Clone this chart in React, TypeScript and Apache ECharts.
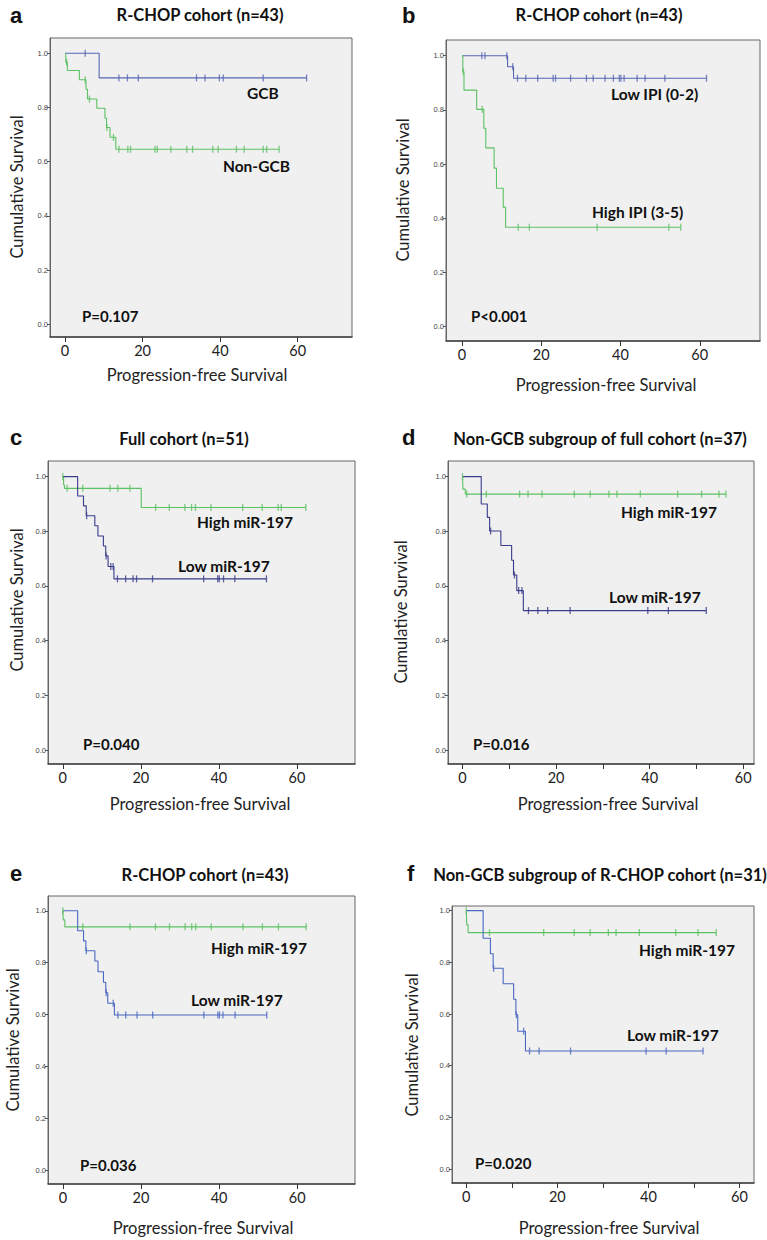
import React, { useEffect, useRef } from "react";
import * as echarts from "echarts";

// ---------- data (months, cumulative survival) ----------
// Panel a: R-CHOP cohort, GCB vs Non-GCB
const aGcbEventTimes = [8.8];
const aGcbEventSurv = [0.909];
const aGcbCensor = [5.2, 13.9, 16.1, 18.9, 33.9, 36.1, 39.8, 40.8, 51.1, 62.3];
const aNonEventTimes = [0.2, 0.6, 3.7, 5.4, 5.8, 8.2, 10.3, 10.7, 11.6, 13.1];
const aNonEventSurv = [0.967, 0.936, 0.902, 0.867, 0.831, 0.797, 0.76, 0.726, 0.69, 0.646];
const aNonCensor = [0.4, 5.2, 6.3, 10.8, 12.5, 13.9, 16.2, 16.9, 23.2, 23.8, 27.3, 31.4, 32.9, 38.1, 39.5, 44.2, 46.2, 51.1, 52.0, 55.2];

// Panel b: R-CHOP cohort, Low IPI vs High IPI
const bLowEventTimes = [11.5, 13.0];
const bLowEventSurv = [0.959, 0.917];
const bLowCensor = [5.0, 5.8, 11.3, 12.8, 14.0, 16.1, 19.1, 23.0, 23.6, 27.4, 31.4, 33.1, 36.1, 38.2, 39.7, 40.1, 40.9, 44.2, 46.2, 51.2, 61.7];
const bHighEventTimes = [0.2, 0.5, 3.7, 5.5, 6.0, 8.1, 8.7, 10.4, 11.0];
const bHighEventSurv = [0.941, 0.873, 0.802, 0.732, 0.66, 0.585, 0.511, 0.441, 0.367];
const bHighCensor = [0.3, 5.1, 14.2, 17.0, 34.1, 52.2, 55.2];

// Panel c: Full cohort, High vs Low miR-197
const cHighEventTimes = [0.2, 0.4, 20.1];
const cHighEventSurv = [0.97, 0.957, 0.887];
const cHighCensor = [0, 1.1, 5.1, 12.1, 14.1, 17.2, 23.8, 27.3, 31.3, 33.0, 34.0, 38.0, 46.1, 51.1, 55.2, 56.0, 62.3];
const cLowEventTimes = [3.8, 5.3, 6.0, 8.2, 9.0, 10.4, 11.0, 11.6, 13.1];
const cLowEventSurv = [0.929, 0.893, 0.857, 0.82, 0.783, 0.746, 0.71, 0.671, 0.626];
const cLowCensor = [6.1, 11.1, 12.3, 12.9, 14.0, 16.1, 18.0, 18.9, 23.0, 36.1, 39.7, 40.1, 41.2, 44.1, 52.2];

// Panel d: Non-GCB subgroup of full cohort
const dHighEventTimes = [0.1, 0.6];
const dHighEventSurv = [0.954, 0.936];
const dHighCensor = [0, 0.9, 5.1, 12.2, 14.0, 17.0, 23.9, 27.3, 31.3, 33.0, 38.0, 46.0, 51.1, 54.8, 56.3];
const dLowEventTimes = [4.0, 5.3, 5.8, 8.2, 10.5, 10.9, 11.6, 13.0];
const dLowEventSurv = [0.9, 0.851, 0.801, 0.748, 0.694, 0.64, 0.583, 0.51];
const dLowCensor = [6.0, 11.1, 12.0, 12.7, 14.1, 16.1, 18.2, 23.0, 39.6, 44.0, 52.1];

// Panel e: R-CHOP cohort, High vs Low miR-197
const eHighEventTimes = [0.1, 0.5];
const eHighEventSurv = [0.965, 0.938];
const eHighCensor = [0, 5.1, 17.2, 23.7, 27.3, 31.3, 33.0, 34.0, 38.0, 46.1, 51.1, 55.2, 62.3];
const eLowEventTimes = [3.8, 5.3, 5.9, 8.2, 9.0, 10.4, 11.0, 11.5, 13.2];
const eLowEventSurv = [0.923, 0.884, 0.846, 0.806, 0.765, 0.724, 0.684, 0.643, 0.598];
const eLowCensor = [6.0, 11.1, 12.9, 14.1, 16.1, 19.0, 23.0, 36.1, 39.7, 40.1, 41.0, 44.1, 52.2];

// Panel f: Non-GCB subgroup of R-CHOP cohort
const fHighEventTimes = [0.1, 0.4];
const fHighEventSurv = [0.945, 0.915];
const fHighCensor = [0, 5.1, 17.0, 23.7, 27.2, 31.2, 32.9, 38.0, 46.0, 50.9, 54.9];
const fLowEventTimes = [3.7, 5.3, 5.9, 8.1, 10.4, 10.9, 11.3, 13.0];
const fLowEventSurv = [0.893, 0.833, 0.777, 0.717, 0.657, 0.597, 0.533, 0.457];
const fLowCensor = [6.0, 11.0, 12.6, 13.9, 16.0, 22.9, 39.5, 43.9, 52.0];

// axis ticks and labels
const yTicks = [0, 0.2, 0.4, 0.6, 0.8, 1.0];
const xLabels = [0, 20, 40, 60];
const xTicksMinor = [0, 10, 20, 30, 40, 50, 60];

const panelLetters = ["a", "b", "c", "d", "e", "f"];
const panelTitles = [
  "R-CHOP cohort (n=43)",
  "R-CHOP cohort (n=43)",
  "Full cohort (n=51)",
  "Non-GCB subgroup of full cohort (n=37)",
  "R-CHOP cohort (n=43)",
  "Non-GCB subgroup of R-CHOP cohort (n=31)",
];
const pValues = ["P=0.107", "P<0.001", "P=0.040", "P=0.016", "P=0.036", "P=0.020"];
const curveNames = [
  ["GCB", "Non-GCB"],
  ["Low IPI (0-2)", "High IPI (3-5)"],
  ["High miR-197", "Low miR-197"],
  ["High miR-197", "Low miR-197"],
  ["High miR-197", "Low miR-197"],
  ["High miR-197", "Low miR-197"],
];
const xAxisTitle = "Progression-free Survival";
const yAxisTitle = "Cumulative Survival";

// ---------- styling / layout ----------
const GREEN = "#5cc163";
const BLUE = "#5666b4";
const NAVY = "#3a3c8c";
const BLUE2 = "#4a67c2";
const FONT = "Lato, 'Open Sans', sans-serif";

type Curve = { times: number[]; surv: number[]; censor: number[]; color: string };

const panels = [
  {
    grid: { left: 50, top: 38, width: 302, height: 299 },
    x: [-3.87, 74.0], y: [-0.046, 1.056], xTicks: xLabels,
    curves: [
      { times: aGcbEventTimes, surv: aGcbEventSurv, censor: aGcbCensor, color: BLUE },
      { times: aNonEventTimes, surv: aNonEventSurv, censor: aNonCensor, color: GREEN },
    ],
    letter: [10, 15], title: [200, 15], labels: [[247, 93], [223, 166]], p: [82, 316],
    xt: [197, 375], yt: [17, 187],
  },
  {
    grid: { left: 446, top: 40, width: 314, height: 301 },
    x: [-4.04, 75.2], y: [-0.053, 1.058], xTicks: xLabels,
    curves: [
      { times: bLowEventTimes, surv: bLowEventSurv, censor: bLowCensor, color: BLUE },
      { times: bHighEventTimes, surv: bHighEventSurv, censor: bHighCensor, color: GREEN },
    ],
    letter: [402, 15], title: [599, 15], labels: [[611, 94], [592, 212]], p: [471, 316],
    xt: [606, 385], yt: [403, 190],
  },
  {
    grid: { left: 48, top: 461, width: 307, height: 303 },
    x: [-3.8, 74.9], y: [-0.051, 1.057], xTicks: xLabels,
    curves: [
      { times: cHighEventTimes, surv: cHighEventSurv, censor: cHighCensor, color: GREEN },
      { times: cLowEventTimes, surv: cLowEventSurv, censor: cLowCensor, color: NAVY },
    ],
    letter: [10, 437], title: [184, 439], labels: [[197, 522], [178, 566]], p: [83, 744],
    xt: [200, 804], yt: [17, 600],
  },
  {
    grid: { left: 448, top: 461, width: 306, height: 303 },
    x: [-3.1, 62.3], y: [-0.051, 1.057], xTicks: xTicksMinor,
    curves: [
      { times: dHighEventTimes, surv: dHighEventSurv, censor: dHighCensor, color: GREEN },
      { times: dLowEventTimes, surv: dLowEventSurv, censor: dLowCensor, color: NAVY },
    ],
    letter: [402, 437], title: [600, 439], labels: [[621, 512], [609, 597]], p: [473, 744],
    xt: [608, 804], yt: [401, 612],
  },
  {
    grid: { left: 48, top: 896, width: 307, height: 288 },
    x: [-3.8, 74.8], y: [-0.054, 1.057], xTicks: xLabels,
    curves: [
      { times: eHighEventTimes, surv: eHighEventSurv, censor: eHighCensor, color: GREEN },
      { times: eLowEventTimes, surv: eLowEventSurv, censor: eLowCensor, color: BLUE2 },
    ],
    letter: [10, 873], title: [205, 875], labels: [[211, 948], [191, 1000]], p: [80, 1165],
    xt: [203, 1228], yt: [13, 1040],
  },
  {
    grid: { left: 452, top: 906, width: 302, height: 277 },
    x: [-3.14, 63.2], y: [-0.054, 1.018], xTicks: xTicksMinor,
    curves: [
      { times: fHighEventTimes, surv: fHighEventSurv, censor: fHighCensor, color: GREEN },
      { times: fLowEventTimes, surv: fLowEventSurv, censor: fLowCensor, color: BLUE2 },
    ],
    letter: [407, 873], title: [600, 875], labels: [[639, 950], [627, 1035]], p: [475, 1163],
    xt: [609, 1228], yt: [412, 1045],
  },
];

function stepData(c: Curve): number[][] {
  const pts: number[][] = [[0, 1]];
  c.times.forEach((t, i) => pts.push([t, c.surv[i]]));
  const end = Math.max(...c.censor, ...c.times);
  pts.push([end, c.surv.length ? c.surv[c.surv.length - 1] : 1]);
  return pts;
}

function survAt(c: Curve, t: number): number {
  let s = 1;
  c.times.forEach((tt, i) => {
    if (tt <= t) s = c.surv[i];
  });
  return s;
}

function buildOption() {
  const grid: any[] = [];
  const xAxis: any[] = [];
  const yAxis: any[] = [];
  const series: any[] = [];
  const graphic: any[] = [];

  panels.forEach((p, i) => {
    grid.push({
      ...p.grid,
      show: true,
      backgroundColor: "#f0f0f0",
      borderColor: "#666",
      borderWidth: 1,
      containLabel: false,
    });
    xAxis.push({
      type: "value",
      gridIndex: i,
      min: p.x[0],
      max: p.x[1],
      axisLine: { show: true, onZero: false, lineStyle: { color: "#444", width: 1.5 } },
      axisTick: { show: true, customValues: p.xTicks, length: 5, lineStyle: { color: "#333", width: 1 } },
      axisLabel: { customValues: xLabels, fontSize: 14.5, color: "#222", margin: 6, fontFamily: FONT },
      splitLine: { show: false },
    });
    yAxis.push({
      type: "value",
      gridIndex: i,
      min: p.y[0],
      max: p.y[1],
      axisLine: { show: true, onZero: false, lineStyle: { color: "#666", width: 1 } },
      axisTick: { show: true, customValues: yTicks, length: 3, lineStyle: { color: "#555" } },
      axisLabel: {
        customValues: yTicks,
        formatter: (v: number) => v.toFixed(1),
        fontSize: 7.5,
        color: "#444",
        margin: 2,
        fontFamily: "'Liberation Sans', Arial, sans-serif",
      },
      splitLine: { show: false },
    });
    p.curves.forEach((c: Curve) => {
      series.push({
        type: "line",
        xAxisIndex: i,
        yAxisIndex: i,
        step: "end",
        data: stepData(c),
        showSymbol: false,
        symbol: "none",
        lineStyle: { color: c.color, width: 1.1 },
        silent: true,
        z: 2,
      });
      series.push({
        type: "scatter",
        xAxisIndex: i,
        yAxisIndex: i,
        data: c.censor.map((t) => [t, survAt(c, t)]),
        symbol: "rect",
        symbolSize: [1.3, 7],
        itemStyle: { color: c.color },
        silent: true,
        z: 3,
      });
    });

    graphic.push({
      type: "text",
      x: p.letter[0],
      y: p.letter[1],
      style: {
        text: panelLetters[i],
        font: "bold 22px 'Liberation Sans', Arial, sans-serif",
        fill: "#111",
        textAlign: "left",
        textVerticalAlign: "middle",
      },
    });
    graphic.push({
      type: "text",
      x: p.title[0],
      y: p.title[1],
      style: {
        text: panelTitles[i],
        font: `bold 16.5px ${FONT}`,
        fill: "#111",
        textAlign: "center",
        textVerticalAlign: "middle",
      },
    });
    p.labels.forEach((pos: number[], k: number) => {
      graphic.push({
        type: "text",
        x: pos[0],
        y: pos[1],
        style: {
          text: curveNames[i][k],
          font: `bold 15.5px ${FONT}`,
          fill: "#111",
          textAlign: "left",
          textVerticalAlign: "middle",
        },
      });
    });
    graphic.push({
      type: "text",
      x: p.p[0],
      y: p.p[1],
      style: {
        text: pValues[i],
        font: `bold 15px ${FONT}`,
        fill: "#111",
        textAlign: "left",
        textVerticalAlign: "middle",
      },
    });
    graphic.push({
      type: "text",
      x: p.xt[0],
      y: p.xt[1],
      style: {
        text: xAxisTitle,
        font: `16.5px ${FONT}`,
        fill: "#222",
        textAlign: "center",
        textVerticalAlign: "middle",
      },
    });
    graphic.push({
      type: "text",
      x: p.yt[0],
      y: p.yt[1],
      rotation: Math.PI / 2,
      style: {
        text: yAxisTitle,
        font: `16.5px ${FONT}`,
        fill: "#222",
        textAlign: "center",
        textVerticalAlign: "middle",
      },
    });
  });

  return {
    animation: false,
    backgroundColor: "#ffffff",
    grid,
    xAxis,
    yAxis,
    series,
    graphic,
  };
}

export default function App() {
  const ref = useRef<HTMLDivElement>(null);
  useEffect(() => {
    if (!ref.current) return;
    const chart = echarts.init(ref.current, undefined, { renderer: "svg" });
    chart.setOption(buildOption() as any);
    return () => chart.dispose();
  }, []);
  return (
    <div
      ref={ref}
      style={{ position: "absolute", left: 0, top: 0, width: 767, height: 1240, background: "#fff" }}
    />
  );
}
